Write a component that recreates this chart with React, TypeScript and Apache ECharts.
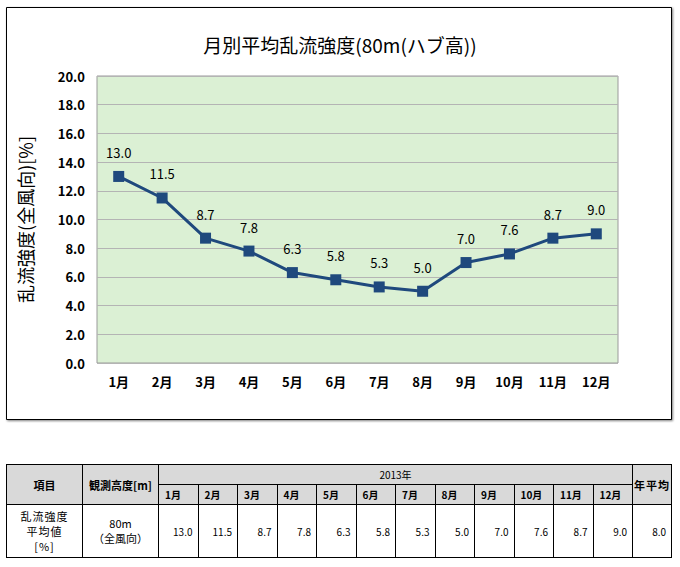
import React, { useEffect, useRef } from "react";
import * as echarts from "echarts";

const months = ["1月", "2月", "3月", "4月", "5月", "6月", "7月", "8月", "9月", "10月", "11月", "12月"];
const turbulence = [13.0, 11.5, 8.7, 7.8, 6.3, 5.8, 5.3, 5.0, 7.0, 7.6, 8.7, 9.0];
const annualAverage = 8.0;
const titleText = "月別平均乱流強度(80m(ハブ高))";
const yAxisName = "乱流強度(全風向)[%]";
const yearLabel = "2013年";

const FONT = "'Noto Sans CJK JP', 'Liberation Sans', sans-serif";

function Chart() {
  const ref = useRef<HTMLDivElement>(null);
  useEffect(() => {
    if (!ref.current) return;
    const chart = echarts.init(ref.current, undefined, { renderer: "svg" });
    chart.setOption({
      animation: false,
      textStyle: { fontFamily: FONT },
      graphic: [
        {
          type: "rect",
          shape: { x: 6.5, y: 7.5, width: 665, height: 412 },
          style: {
            fill: "#ffffff",
            stroke: "#000000",
            lineWidth: 1,
            shadowBlur: 2,
            shadowOffsetX: 1,
            shadowOffsetY: 1,
            shadowColor: "rgba(0,0,0,0.5)",
          },
          z: -10,
        },
      ],
      title: {
        text: titleText,
        left: "center",
        top: 30,
        textStyle: { fontFamily: FONT, fontSize: 19, fontWeight: "normal", color: "#000" },
      },
      grid: {
        left: 97,
        top: 76,
        width: 521,
        height: 287,
        show: true,
        backgroundColor: "#DBF0D4",
        borderColor: "#9a9a9a",
        borderWidth: 1,
      },
      xAxis: {
        type: "category",
        data: months,
        boundaryGap: true,
        axisLine: { show: false },
        axisTick: { show: false },
        axisLabel: { color: "#000", fontSize: 13, fontWeight: "bold", margin: 12, fontFamily: FONT },
      },
      yAxis: {
        type: "value",
        min: 0,
        max: 20,
        interval: 2,
        name: yAxisName,
        nameLocation: "middle",
        nameGap: 63,
        nameRotate: 90,
        nameTextStyle: { fontSize: 18, color: "#000", fontFamily: FONT },
        axisLine: { show: false },
        axisTick: { show: false },
        axisLabel: {
          color: "#000",
          fontSize: 13,
          fontWeight: "bold",
          margin: 12,
          fontFamily: FONT,
          formatter: (v: number) => v.toFixed(1),
        },
        splitLine: { lineStyle: { color: "#b4b4b4", width: 1 } },
      },
      series: [
        {
          type: "line",
          data: turbulence,
          symbol: "rect",
          symbolSize: 11,
          lineStyle: { color: "#1F497D", width: 3 },
          itemStyle: { color: "#1F497D" },
          label: {
            show: true,
            position: "top",
            distance: 12,
            color: "#000",
            fontSize: 13,
            fontFamily: FONT,
            formatter: (p: any) => Number(p.value).toFixed(1),
          },
        },
      ],
    });
    return () => chart.dispose();
  }, []);
  return <div ref={ref} style={{ position: "absolute", left: 0, top: 0, width: 680, height: 430 }} />;
}

const cell: React.CSSProperties = {
  border: "1px solid #000",
  padding: 0,
  fontFamily: FONT,
  fontSize: 10,
  color: "#000",
  textAlign: "center",
  verticalAlign: "middle",
  overflow: "hidden",
  whiteSpace: "nowrap",
};
const head: React.CSSProperties = { ...cell, background: "#D9D9D9", fontWeight: "bold" };

function DataTable() {
  return (
    <table
      style={{
        position: "absolute",
        left: 6,
        top: 464,
        borderCollapse: "collapse",
        tableLayout: "fixed",
        width: 665,
        border: "1.5px solid #000",
      }}
    >
      <colgroup>
        <col style={{ width: 76 }} />
        <col style={{ width: 76 }} />
        {months.map((m) => (
          <col key={m} style={{ width: 39.5 }} />
        ))}
        <col style={{ width: 39 }} />
      </colgroup>
      <tbody>
        <tr style={{ height: 20 }}>
          <td rowSpan={2} style={{ ...head, fontSize: 11 }}>項目</td>
          <td rowSpan={2} style={{ ...head, fontSize: 11 }}>観測高度[m]</td>
          <td colSpan={12} style={{ ...head, fontWeight: "normal" }}>{yearLabel}</td>
          <td rowSpan={2} style={{ ...head, fontSize: 11, letterSpacing: 1 }}>年平均</td>
        </tr>
        <tr style={{ height: 20 }}>
          {months.map((m) => (
            <td key={m} style={{ ...head, textAlign: "left", paddingLeft: 6, fontWeight: "bold" }}>{m}</td>
          ))}
        </tr>
        <tr style={{ height: 53 }}>
          <td style={{ ...cell, lineHeight: "15px", fontSize: 11, letterSpacing: 1 }}>
            乱流強度<br />平均値<br />[%]
          </td>
          <td style={{ ...cell, lineHeight: "15px", fontSize: 11 }}>
            80m<br />（全風向）
          </td>
          {turbulence.map((v, i) => (
            <td key={i} style={{ ...cell, textAlign: "right", paddingRight: 5 }}>{v.toFixed(1)}</td>
          ))}
          <td style={{ ...cell, textAlign: "right", paddingRight: 5 }}>{annualAverage.toFixed(1)}</td>
        </tr>
      </tbody>
    </table>
  );
}

export default function App() {
  return (
    <div style={{ position: "absolute", left: 0, top: 0, width: 680, height: 567, background: "#fff" }}>
      <Chart />
      <DataTable />
    </div>
  );
}
